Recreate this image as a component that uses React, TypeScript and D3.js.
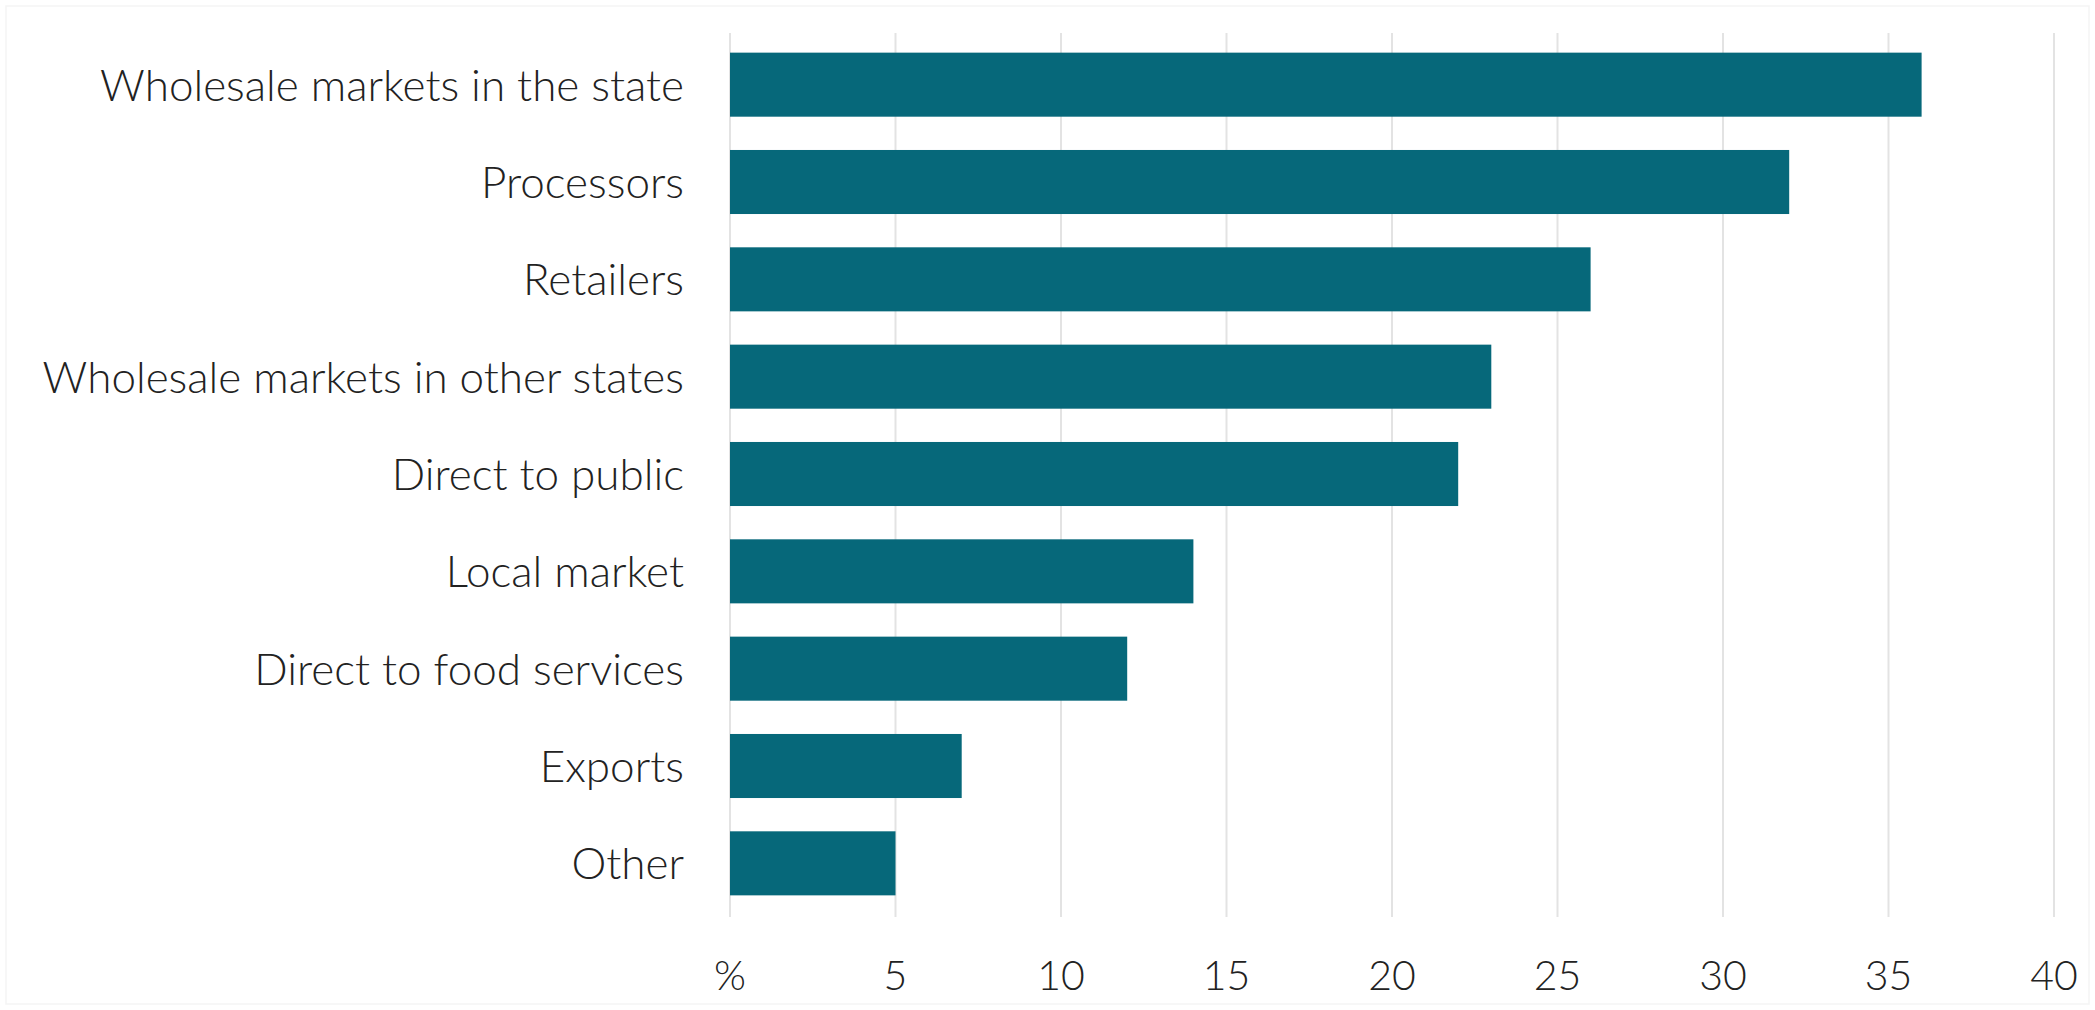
import { useEffect, useRef } from "react";
import * as d3 from "d3";

const categories = [
  "Wholesale markets in the state",
  "Processors",
  "Retailers",
  "Wholesale markets in other states",
  "Direct to public",
  "Local market",
  "Direct to food services",
  "Exports",
  "Other",
];
const values = [36, 32, 26, 23, 22, 14, 12, 7, 5];
const xTicks = [0, 5, 10, 15, 20, 25, 30, 35, 40];
const xTickLabels = ["%", "5", "10", "15", "20", "25", "30", "35", "40"];

const W = 2095, H = 1010;
const FONT = "Lato, 'Open Sans', sans-serif";
const BAR = "#06687a";

export default function App() {
  const ref = useRef<SVGSVGElement | null>(null);

  useEffect(() => {
    const svg = d3.select(ref.current);
    svg.selectAll("*").remove();

    const x = d3.scaleLinear().domain([0, 40]).range([730, 2054]);
    const y = d3.scaleBand<string>()
      .domain(categories)
      .range([36, 912])
      .paddingInner(0.342)
      .paddingOuter(0.171);

    svg.append("rect")
      .attr("x", 0).attr("y", 0)
      .attr("width", W).attr("height", H)
      .attr("fill", "white");

    // faint chart border
    svg.append("rect")
      .attr("x", 6).attr("y", 6)
      .attr("width", W - 12).attr("height", H - 12)
      .attr("fill", "none")
      .attr("stroke", "#f5f5f5")
      .attr("stroke-width", 1.5);

    // vertical gridlines
    svg.append("g")
      .selectAll("line")
      .data(xTicks)
      .enter()
      .append("line")
      .attr("x1", d => x(d)).attr("x2", d => x(d))
      .attr("y1", 33).attr("y2", 917)
      .attr("stroke", "#e3e3e3")
      .attr("stroke-width", 2);

    // bars
    svg.append("g")
      .selectAll("rect")
      .data(values)
      .enter()
      .append("rect")
      .attr("x", x(0))
      .attr("y", (_, i) => y(categories[i]) ?? 0)
      .attr("width", d => x(d) - x(0))
      .attr("height", y.bandwidth())
      .attr("fill", BAR);

    // category labels
    svg.append("g")
      .selectAll("text")
      .data(categories)
      .enter()
      .append("text")
      .attr("x", 684)
      .attr("y", d => (y(d) ?? 0) + y.bandwidth() / 2)
      .attr("dy", "0.36em")
      .attr("text-anchor", "end")
      .attr("font-family", FONT)
      .attr("font-weight", 300)
      .attr("font-size", 44)
      .attr("fill", "#222")
      .text(d => d);

    // x tick labels
    svg.append("g")
      .selectAll("text")
      .data(xTicks)
      .enter()
      .append("text")
      .attr("x", d => x(d))
      .attr("y", 990)
      .attr("text-anchor", "middle")
      .attr("font-family", FONT)
      .attr("font-weight", 300)
      .attr("font-size", 41)
      .attr("fill", "#222")
      .text((_, i) => xTickLabels[i]);
  }, []);

  return (
    <svg
      ref={ref}
      width={W}
      height={H}
      viewBox={`0 0 ${W} ${H}`}
      style={{ position: "absolute", left: 0, top: 0, display: "block" }}
    />
  );
}
